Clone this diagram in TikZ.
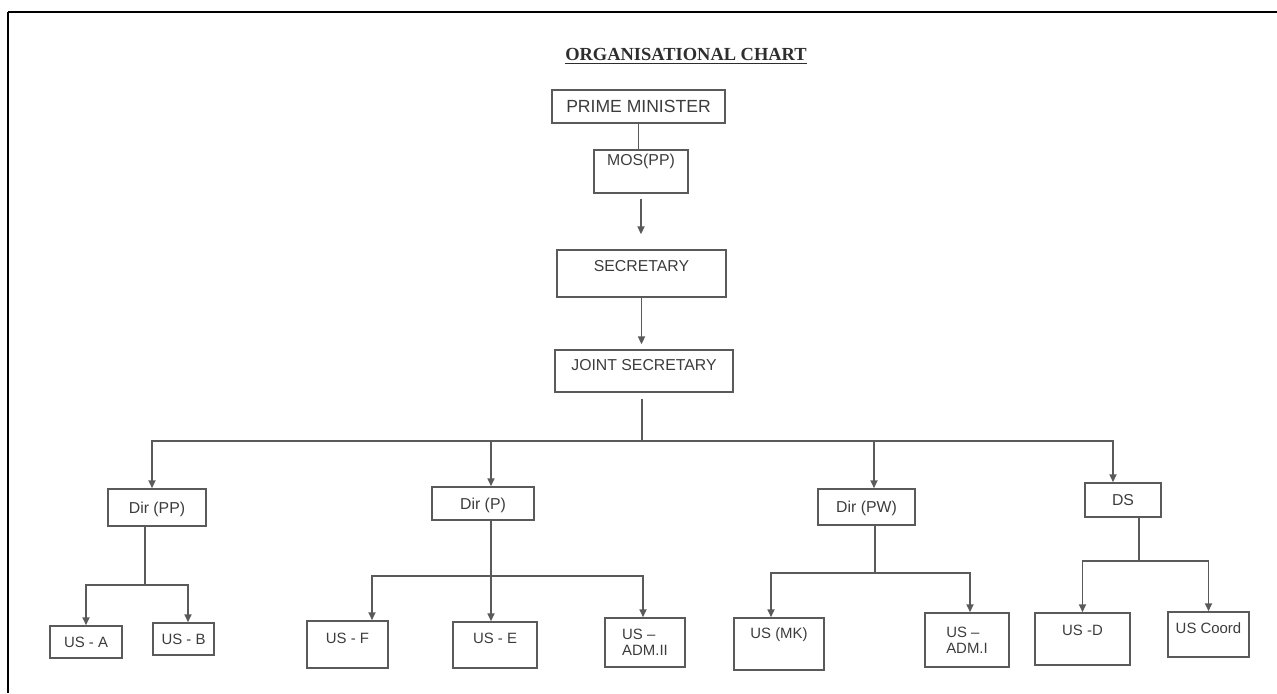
\documentclass[tikz,border=0pt]{standalone}
\usepackage{fontspec}
\setmainfont{Liberation Serif}
\setsansfont{Liberation Sans}
\usetikzlibrary{arrows.meta,calc}
\definecolor{linegray}{HTML}{5A5A5A}
\definecolor{txtgray}{HTML}{3C3C3C}
\definecolor{titlegray}{HTML}{2E2E2E}
\tikzset{
  box/.style={draw=linegray, line width=0.9pt, text=txtgray, inner sep=0pt,
    font=\sffamily\fontsize{9}{10.5}\selectfont},
  small/.style={font=\sffamily\fontsize{8.5}{9}\selectfont},
  size/.style 2 args={minimum width=#1*0.2mm, minimum height=#2*0.2mm},
  lift/.style={text height=6.5pt, text depth=#1},
  link/.style={draw=linegray, line width=0.9pt},
  arr/.style={link, -{Triangle[width=4pt,length=4.5pt]}}
}
\begin{document}
\begin{tikzpicture}[x=0.2mm, y=-0.2mm]
\useasboundingbox (0,0) rectangle (1277,693);
\draw[line width=0.8pt] (1277,12) -- (8,12);
\draw[line width=1.6pt] (8,12) -- (8,693);
\node[text=titlegray, font=\bfseries\fontsize{10.5}{12}\selectfont] (title) at (686,56) {\underline{ORGANISATIONAL CHART}};

\node[box, size={173}{33}, lift=0pt, font=\sffamily\fontsize{10}{12}\selectfont] (pm) at (638.5,106.5) {PRIME MINISTER};
\node[box, size={94}{43}, lift=13pt] (mos) at (641,171.5) {MOS(PP)};
\node[box, size={169}{47}, lift=8.5pt] (sec) at (641.5,273.5) {SECRETARY};
\node[box, size={178}{42}, lift=6.8pt] (js) at (644,371) {JOINT SECRETARY};

\node[box, size={98}{37}, lift=0pt] (dpp) at (157,507.5) {Dir (PP)};
\node[box, size={102}{33}, lift=0pt] (dp) at (483,503.5) {Dir (P)};
\node[box, size={97}{36}, lift=0pt] (dpw) at (866.5,507) {Dir (PW)};
\node[box, size={76}{34}, lift=0pt] (ds) at (1123,500) {DS};

\node[box, small, size={72}{32}, lift=0pt] (usa) at (86,642) {US - A};
\node[box, small, size={61}{32}, lift=0pt] (usb) at (183.5,639) {US - B};
\node[box, small, size={81}{47}, lift=7.4pt] (usf) at (347.5,644.5) {US - F};
\node[box, small, size={84}{46}, lift=8pt] (use) at (495,645) {US - E};
\node[box, small, size={80}{49}, align=left] (adm2) at (645,642.5) {US –\\ADM.II};
\node[box, small, size={90}{52}, lift=12.5pt] (usmk) at (779,644) {US (MK)};
\node[box, small, size={84}{54}, align=left] (adm1) at (967,640) {US –\\ADM.I};
\node[box, small, size={95}{52}, lift=10pt] (usd) at (1082.5,639) {US -D};
\node[box, small, size={81}{45}, lift=7.4pt] (usc) at (1208.5,634.5) {US Coord};

\draw[link] (pm.south) -- (pm.south |- mos.north);
\draw[arr, shorten <=2.8pt, shorten >=8.5pt] (mos.south) -- (mos.south |- sec.north);
\draw[arr, shorten >=2.8pt] (sec.south) -- (sec.south |- js.north);

\coordinate (split) at (642,441);
\draw[link, shorten <=3.4pt] (split |- js.south) -- (split);
\draw[arr] (split) -| ($(dpp.north)+(-5,0)$);
\draw[arr] (split) -| ($(dp.north)+(8,0)$);
\draw[arr] (split) -| ($(dpw.north)+(7.5,0)$);
\draw[arr] (split) -| ($(ds.north)+(-10,0)$);

\coordinate (ppsplit) at (145,585);
\draw[link] (ppsplit |- dpp.south) -- (ppsplit);
\draw[arr] (ppsplit) -| (usa.north);
\draw[arr] (ppsplit) -| ($(usb.north)+(4.5,0)$);

\coordinate (psplit) at (491,576);
\draw[arr] (psplit |- dp.south) -- (psplit |- use.north);
\draw[arr] (psplit) -| ($(usf.north)+(24.5,0)$);
\draw[arr] (psplit) -| ($(adm2.north)+(-2,0)$);

\coordinate (pwsplit) at (875,573);
\draw[link] (pwsplit |- dpw.south) -- (pwsplit);
\draw[arr] (pwsplit) -| ($(usmk.north)+(-8,0)$);
\draw[arr] (pwsplit) -| ($(adm1.north)+(3,0)$);

\coordinate (dssplit) at (1139,561);
\draw[link] (dssplit |- ds.south) -- (dssplit);
\draw[arr] (dssplit) -| (usd.north);
\draw[arr] (dssplit) -| (usc.north);
\end{tikzpicture}
\end{document}
